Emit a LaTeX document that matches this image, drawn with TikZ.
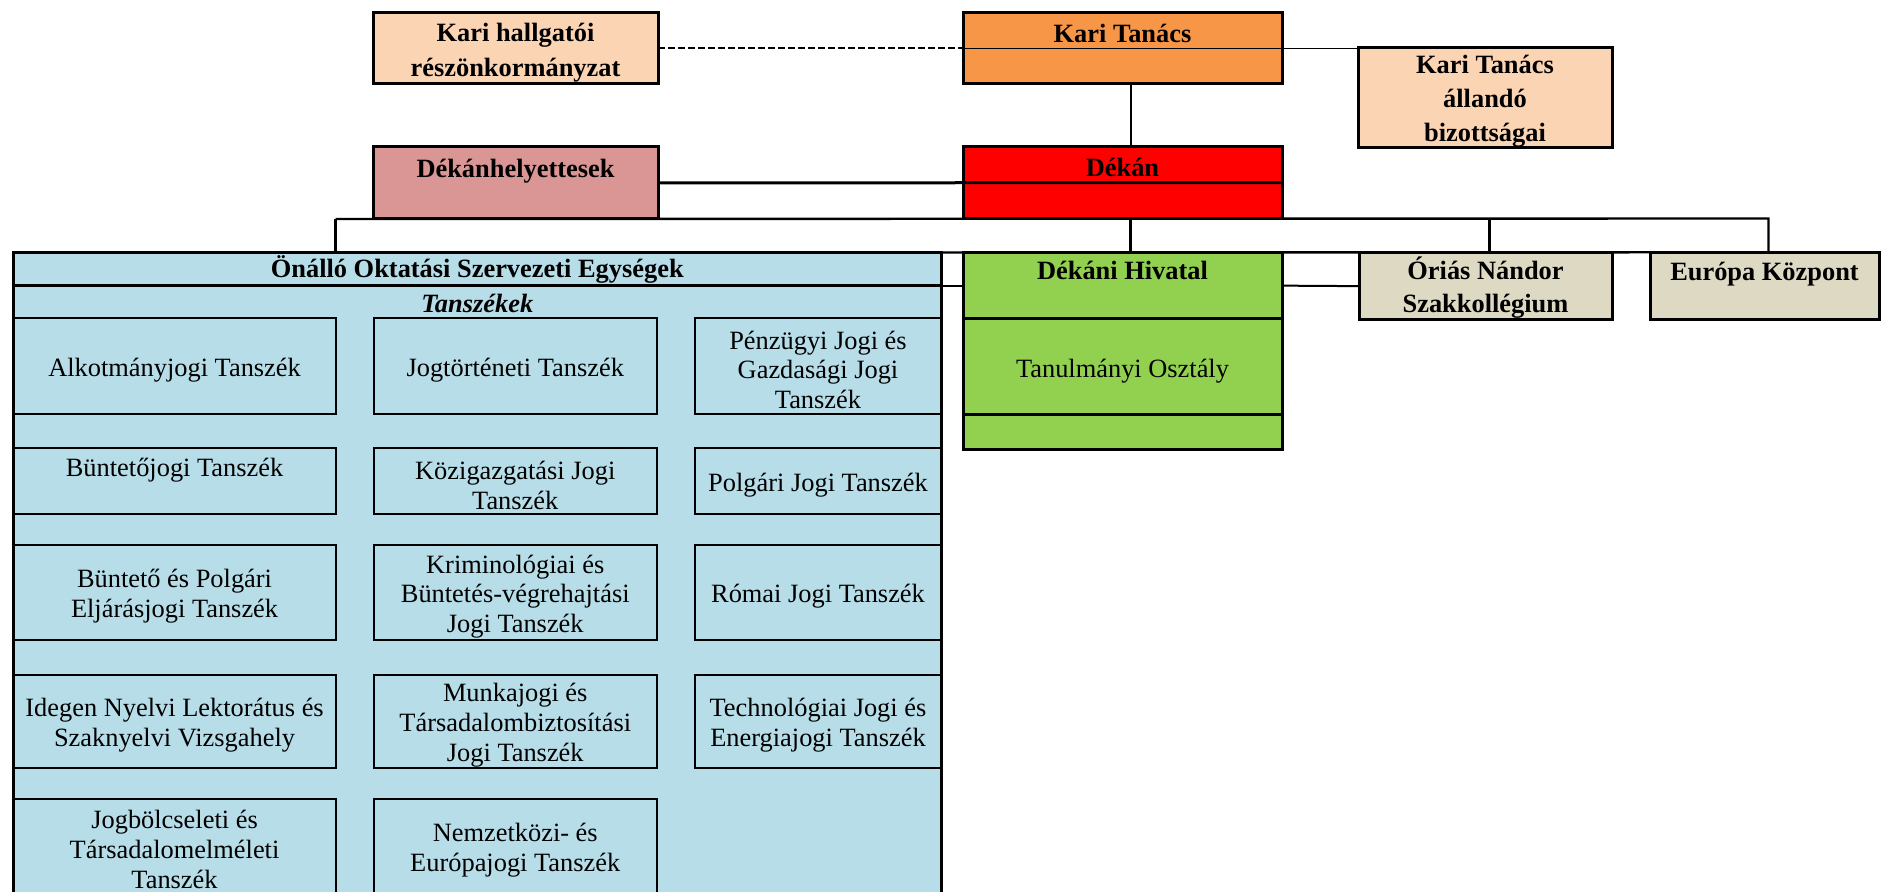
\documentclass[tikz,border=0pt]{standalone}
\usepackage{fontspec}
\setmainfont{Liberation Serif}
\newcommand{\orgfont}{\fontsize{13.2}{14.85}\selectfont}
\newcommand{\topstrut}{\rule{0pt}{1em}}
\newcommand{\lowstrut}{\rule[-0.2em]{0pt}{0pt}}
\definecolor{peach}{HTML}{FBD4B4}
\definecolor{korange}{HTML}{F79646}
\definecolor{rose}{HTML}{D99694}
\definecolor{lblue}{HTML}{B7DDE8}
\definecolor{lgreen}{HTML}{92D050}
\definecolor{beige}{HTML}{DDD9C3}
\tikzset{
	unit/.style={draw, line width=1.5pt, align=center, inner sep=0pt, outer sep=0pt, font=\fontsize{13.2}{16.5}\selectfont\bfseries},
	dept/.style={draw, line width=1pt, fill=lblue, align=center, inner sep=0pt, outer sep=0pt, font=\orgfont},
	link/.style={line width=1pt},
	bus/.style={line width=1.2pt},
}
\begin{document}
\begin{tikzpicture}[x=0.5pt, y=-0.5pt]
	\useasboundingbox (0,0) rectangle (1881,892);
	\node[unit, fill=peach, minimum width=142.5pt, minimum height=35.65pt] (hallg) at (515.5,48.35) {\topstrut Kari hallgatói\\[1pt]részönkormányzat};
	\node[unit, fill=korange, minimum width=159.5pt, minimum height=35.5pt] (kt) at (1122.5,48.5) {\topstrut Kari Tanács\\\lowstrut};
	\node[unit, fill=peach, minimum width=127pt, minimum height=49.65pt] (ktb) at (1485,97.35) {\topstrut Kari Tanács\\[0.5pt]állandó\\[0.5pt]bizottságai};
	\node[unit, fill=rose, minimum width=142.5pt, minimum height=36pt] (dh) at (515.5,183) {\topstrut Dékánhelyettesek\\\lowstrut};
	\node[unit, fill=red, minimum width=159.5pt, minimum height=35.75pt] (dekan) at (1122.5,182.75) {\topstrut Dékán\\\lowstrut};

	\node[draw, line width=1.5pt, fill=lblue, outer sep=0pt, minimum width=463.75pt, minimum height=337.15pt] (tsz) at (477.25,622.85) {};
	\node[unit, fill=lblue, minimum width=463.75pt, minimum height=16.6pt] (oosze) at (477.25,269.1) {Önálló Oktatási Szervezeti Egységek};
	\node[font=\orgfont\bfseries\itshape] (tszlabel) at (477.25,303.5) {Tanszékek};

	\node[dept, minimum width=161.05pt, minimum height=48.15pt] (d11) at (174.55,365.85) {\topstrut Alkotmányjogi Tanszék};
	\node[dept, minimum width=141.75pt, minimum height=48.15pt] (d12) at (515.25,365.85) {\topstrut Jogtörténeti Tanszék};
	\node[dept, minimum width=123pt, minimum height=48.15pt] (d13) at (818,365.85) {\topstrut Pénzügyi Jogi és\\Gazdasági Jogi\\Tanszék};
	\node[dept, minimum width=161.05pt, minimum height=32.85pt] (d21) at (174.55,481.15) {\topstrut Büntetőjogi Tanszék\\\lowstrut};
	\node[dept, minimum width=141.75pt, minimum height=32.85pt] (d22) at (515.25,481.15) {\topstrut Közigazgatási Jogi\\Tanszék};
	\node[dept, minimum width=123pt, minimum height=32.85pt] (d23) at (818,481.15) {\topstrut Polgári Jogi Tanszék};
	\node[dept, minimum width=161.05pt, minimum height=47.5pt] (d31) at (174.55,592.5) {\topstrut Büntető és Polgári\\Eljárásjogi Tanszék};
	\node[dept, minimum width=141.75pt, minimum height=47.5pt] (d32) at (515.25,592.5) {\topstrut Kriminológiai és\\Büntetés-végrehajtási\\Jogi Tanszék};
	\node[dept, minimum width=123pt, minimum height=47.5pt] (d33) at (818,592.5) {\topstrut Római Jogi Tanszék};
	\node[dept, minimum width=161.05pt, minimum height=46.35pt] (d41) at (174.55,721.35) {\topstrut Idegen Nyelvi Lektorátus és\\Szaknyelvi Vizsgahely};
	\node[dept, minimum width=141.75pt, minimum height=46.35pt] (d42) at (515.25,721.35) {\topstrut Munkajogi és\\Társadalombiztosítási\\Jogi Tanszék};
	\node[dept, minimum width=123pt, minimum height=46.35pt] (d43) at (818,721.35) {\topstrut Technológiai Jogi és\\Energiajogi Tanszék};
	\node[dept, text depth=0.3em, minimum width=161.05pt, minimum height=48.85pt] (d51) at (174.55,848.15) {\topstrut Jogbölcseleti és\\Társadalomelméleti\\Tanszék};
	\node[dept, text depth=0.5em, minimum width=141.75pt, minimum height=48.85pt] (d52) at (515.25,848.15) {\topstrut Nemzetközi- és\\Európajogi Tanszék};

	\node[unit, fill=lgreen, minimum width=159.5pt, minimum height=33.35pt] (dhiv) at (1122.5,285.65) {\topstrut Dékáni Hivatal\\\lowstrut};
	\node[unit, fill=lgreen, font=\orgfont, minimum width=159.5pt, minimum height=48pt] (tanoszt) at (1122.5,367) {\topstrut Tanulmányi Osztály};
	\node[unit, fill=lgreen, minimum width=159.5pt, minimum height=17.5pt] (dhivend) at (1122.5,432.5) {};
	\node[unit, fill=beige, minimum width=126.5pt, minimum height=33.85pt] (orias) at (1485.5,286.15) {\topstrut Óriás Nándor\\Szakkollégium};
	\node[unit, fill=beige, minimum width=114.5pt, minimum height=33.85pt] (europa) at (1764.5,286.15) {\topstrut Európa Központ\\\lowstrut};

	\draw[link, dash pattern=on 3.5pt off 1.5pt] (hallg.east) -- (hallg.east -| kt.west);
	\draw[line width=0.6pt] (kt.west) -- (kt.east) -- (kt.east -| ktb.west);
	\draw[link] ([xshift=4pt]kt.south) -- ([xshift=4pt]dekan.north);
	\draw[line width=1.5pt] (dh.east) -- (dekan.west) -- (dekan.east);
	\draw[bus] (dh.south -| d11.east) -- ([xshift=2pt]dekan.south -| europa.north) -- ([xshift=2pt]europa.north);
	\draw[bus] (dh.south -| d11.east) -- (oosze.north -| d11.east);
	\draw[bus] ([xshift=4pt]dekan.south) -- ([xshift=4pt]dhiv.north);
	\draw[bus] ([xshift=2pt]dekan.south -| orias.north) -- ([xshift=2pt]orias.north);
	\draw[bus] (oosze.north east) -- (europa.north west);
	\draw[link] (oosze.south east) -- (oosze.south east -| dhiv.west);
	\draw[link] (dhiv.east) -- (orias.west);
\end{tikzpicture}
\end{document}
